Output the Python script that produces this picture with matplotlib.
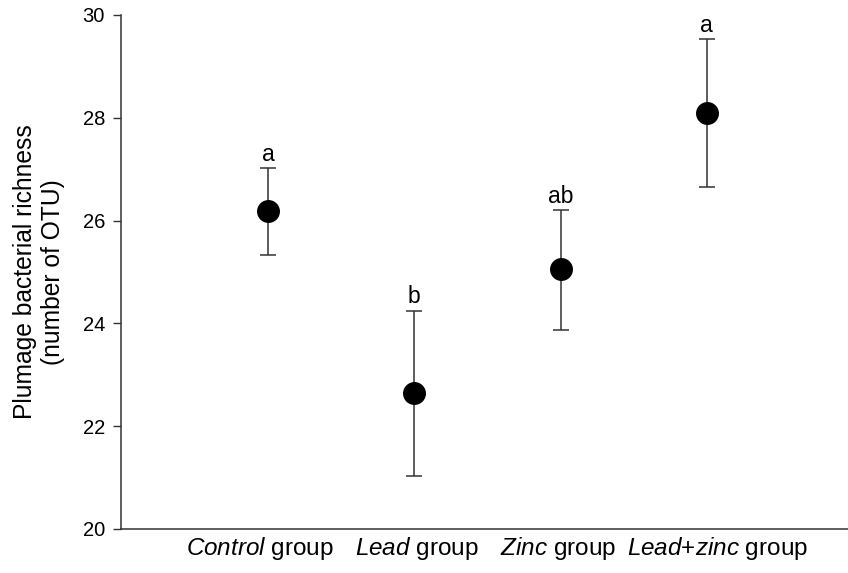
import matplotlib
matplotlib.use("Agg")
import matplotlib.pyplot as plt

plt.rcParams['font.family'] = ['Liberation Sans', 'DejaVu Sans']
plt.rcParams['mathtext.fontset'] = 'custom'
plt.rcParams['mathtext.rm'] = 'Liberation Sans'
plt.rcParams['mathtext.it'] = 'Liberation Sans:italic'

categories = [r'$\mathit{Control}$ group', r'$\mathit{Lead}$ group',
              r'$\mathit{Zinc}$ group', r'$\mathit{Lead}$+$\mathit{zinc}$ group']
means = [26.19, 22.64, 25.05, 28.09]
upper = [27.03, 24.25, 26.21, 29.53]
lower = [25.34, 21.03, 23.88, 26.65]
letters = ['a', 'b', 'ab', 'a']
yticks = [20, 22, 24, 26, 28, 30]
label_shift_pt = [-6, 1.5, -1.5, 8]

fig = plt.figure(figsize=(8.48, 5.73), dpi=100)
ax = fig.add_axes([121/848, 44/573, 1 - 121/848, (529-15)/573])

x = list(range(len(categories)))
yerr = [[m - l for m, l in zip(means, lower)], [u - m for m, u in zip(means, upper)]]
ax.errorbar(x, means, yerr=yerr, fmt='o', color='black', ecolor='#333333',
            elinewidth=1.1, capsize=6, capthick=1.1, markersize=15.5, zorder=3)
for xi, u, t in zip(x, upper, letters):
    ax.annotate(t, (xi, u), xytext=(0, 1.5), textcoords='offset points',
                ha='center', va='bottom', fontsize=16.5)

ax.set_xlim(-1.005, 3.965)
ax.set_ylim(20, 30)
ax.set_yticks(yticks)
ax.set_xticks(x)
ax.set_xticklabels([])
ax.tick_params(axis='x', length=0)
for xi, lab, dx in zip(x, categories, label_shift_pt):
    ax.annotate(lab, (xi, 0), xycoords=ax.get_xaxis_transform(),
                xytext=(dx, -4), textcoords='offset points',
                ha='center', va='top', fontsize=17.5)
ax.tick_params(axis='y', length=5.5, width=1, pad=6, labelsize=14.5, color='#333333')
for s in ['top', 'right']:
    ax.spines[s].set_visible(False)
for s in ['left', 'bottom']:
    ax.spines[s].set_linewidth(1.1)
    ax.spines[s].set_color('#333333')
ax.set_ylabel('Plumage bacterial richness\n(number of OTU)', fontsize=17.7, linespacing=1.2)
ax.yaxis.set_label_coords((65 - 121) / 727, 0.5)

fig.savefig('out.png', dpi=100)
